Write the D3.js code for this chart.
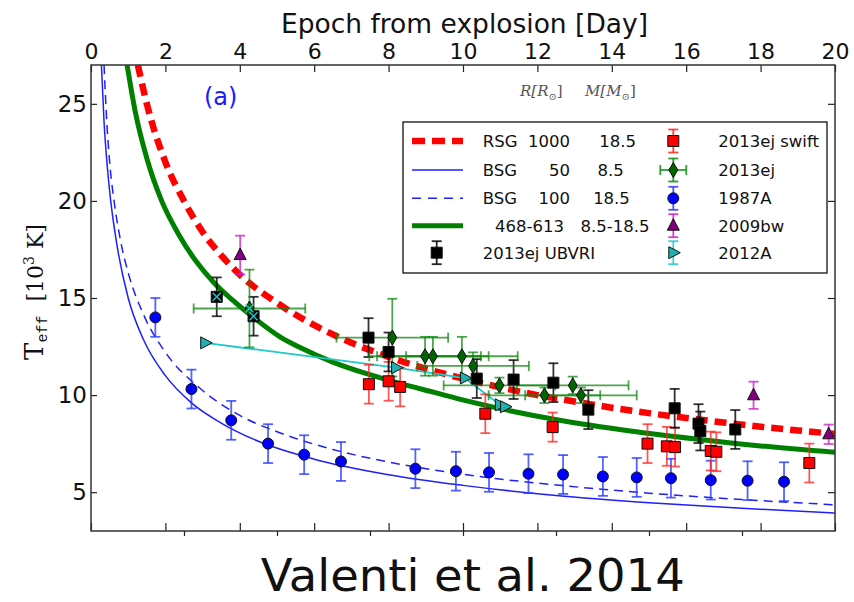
<!DOCTYPE html>
<html>
<head>
<meta charset="utf-8">
<script src="https://cdn.jsdelivr.net/npm/d3@7"></script>
<style>
  html, body { margin: 0; padding: 0; background: #fff; }
  svg { display: block; }
</style>
</head>
<body>
<svg id="chart" width="854" height="602"></svg>
<script>
// ---- axis ticks ----
const dayTicks = [0, 2, 4, 6, 8, 10, 12, 14, 16, 18, 20];
const lowerTicks = [2.5, 5, 7.5, 10, 12.5, 15, 17.5];
const teffTicks = [5, 10, 15, 20, 25];

// ---- model curves: [day, Teff (10^3 K)] ----
const rsgCurve = [[1.26,27],[1.5,25],[2.0,22.0],[2.5,20.0],[3.0,18.4],[3.5,17.2],[4.0,16.2],
  [5.0,14.75],[6.0,13.6],[7.0,12.7],[8.0,11.97],[9.0,11.36],[10.0,10.85],[11.0,10.4],
  [12.0,10.0],[13.0,9.67],[14.0,9.35],[15.0,9.07],[16.0,8.82],[17.0,8.59],[18.0,8.37],
  [19.0,8.18],[20.0,8.0]];
const bsg50Curve = [[0.28,27],[0.35,24.1],[0.45,21.5],[0.53,20],[0.7,17.7],[1.0,15.0],[1.4,12.9],
  [2.0,11.0],[2.7,9.6],[3.5,8.56],[4.5,7.62],[6.0,6.7],[8.0,5.9],[10.0,5.35],[12.5,4.83],
  [15.0,4.46],[17.5,4.17],[20.0,3.92]];
const bsg100Curve = [[0.35,27],[0.43,23.9],[0.52,21.6],[0.62,20],[0.8,17.9],[1.0,16.3],[1.4,14.2],
  [2.0,12.2],[2.93,10.35],[4.0,8.95],[5.09,8.05],[6.5,7.2],[8.0,6.55],[10.0,5.92],[12.61,5.35],
  [15.0,4.95],[17.5,4.62],[20.0,4.35]];
const rangeCurve = [[0.97,27],[1.2,24.5],[1.5,22.2],[1.9,20.0],[2.35,18.3],[2.84,16.85],[3.3,15.8],
  [3.83,14.85],[4.4,13.95],[5.08,13.0],[5.62,12.45],[6.5,11.7],[7.41,11.1],[8.3,10.6],[9.2,10.15],
  [10.1,9.7],[11.0,9.3],[12.6,8.7],[14.5,8.15],[16.2,7.75],[18.0,7.38],[20.0,7.05]];

// ---- observations: [day, Teff, yerr(, xerr)] ----
const sn2013ejUBVRI = [[3.38,15.06,1.0],[4.37,14.06,1.0],[7.46,12.96,1.0],[8.0,12.22,1.0],
  [10.37,10.85,1.0],[11.36,10.80,1.0],[12.43,10.64,1.0],[13.37,9.25,1.0],[15.69,9.32,1.0],
  [16.33,8.53,1.0],[16.38,8.15,1.0],[17.32,8.23,1.0]];
const sn2013ejSwift = [[7.47,10.56,1.0],[8.0,10.71,1.0],[8.31,10.42,1.0],[10.6,9.04,1.0],
  [12.41,8.35,0.75],[14.96,7.50,1.0],[15.48,7.36,1.0],[15.70,7.32,1.0],[16.66,7.12,1.0],
  [16.81,7.08,1.0],[19.31,6.50,1.0]];
const sn2013ej = [[4.26,14.46,2.0,1.5],[8.10,12.96,2.0,1.5],[8.98,12.0,1.0,1.5],[9.19,12.0,1.0,1.5],
  [9.97,12.0,1.0,1.5],[10.27,11.5,0.7,1.5],[10.98,10.5,0.4,1.5],[12.19,9.99,0.4,1.5],
  [12.95,10.5,0.45,1.5],[13.17,9.99,0.4,1.5]];
const sn1987A = [[1.73,14.0,1.0],[2.70,10.31,1.0],[3.77,8.70,1.0],[4.76,7.50,1.0],[5.73,6.93,1.0],
  [6.72,6.58,1.0],[8.72,6.21,1.0],[9.81,6.08,1.0],[10.70,6.02,1.0],[11.76,5.95,1.0],[12.69,5.91,1.0],
  [13.76,5.81,1.0],[14.67,5.76,1.0],[15.59,5.72,1.0],[16.66,5.62,1.0],[17.65,5.59,1.0],[18.63,5.54,1.0]];
const sn2009bw = [[4.01,17.21,1.0],[17.81,9.99,0.7],[19.83,7.98,0.5]];
const sn2012A = [[3.07,12.69],[8.20,11.41],[10.05,10.88],[10.99,9.50],[11.13,9.40]];
const earlyOverlap = [[3.38,15.06],[4.37,14.06],[4.26,14.46]];

// ---- legend text ----
const modelRows = [["RSG","1000","18.5"],["BSG","50","8.5"],["BSG","100","18.5"],["","468-613","8.5-18.5"]];
const dataLabels = ["2013ej swift","2013ej","1987A","2009bw","2012A"];

const svg = d3.select("#chart");
const FONT = "'DejaVu Sans', Verdana, sans-serif";

const x = d3.scaleLinear().domain([0, 20]).range([91, 835]);
const y = d3.scaleLinear().domain([3, 27]).range([531, 65]);

svg.append("defs").append("clipPath").attr("id", "plotclip")
  .append("rect").attr("x", 91).attr("y", 65).attr("width", 744).attr("height", 466);

// ---- curves ----
const line = d3.line().x(d => x(d[0])).y(d => y(d[1])).curve(d3.curveMonotoneX);
const curves = svg.append("g").attr("clip-path", "url(#plotclip)");
curves.append("path").datum(bsg50Curve).attr("d", line)
  .attr("fill", "none").attr("stroke", "#1f1fff").attr("stroke-width", 1.5);
curves.append("path").datum(bsg100Curve).attr("d", line)
  .attr("fill", "none").attr("stroke", "#1f1fff").attr("stroke-width", 1.5).attr("stroke-dasharray", "9,6");
curves.append("path").datum(rangeCurve).attr("d", line)
  .attr("fill", "none").attr("stroke", "#008000").attr("stroke-width", 5);
curves.append("path").datum(rsgCurve).attr("d", line)
  .attr("fill", "none").attr("stroke", "#ff0000").attr("stroke-width", 6.5).attr("stroke-dasharray", "12,7");

// ---- marker shapes ----
const shapes = {
  circle: "M5.5,0A5.5,5.5,0,1,1,-5.5,0A5.5,5.5,0,1,1,5.5,0Z",
  square: "M-5.5,-5.5H5.5V5.5H-5.5Z",
  diamond: "M0,-7.5L4.5,0L0,7.5L-4.5,0Z",
  triUp: "M0,-7L6,4.5L-6,4.5Z",
  triRight: "M7,0L-4.5,-6L-4.5,6Z"
};

const plot = svg.append("g").attr("clip-path", "url(#plotclip)");

function errorBars(data, color, opacity) {
  const g = plot.append("g").attr("stroke", color).attr("stroke-width", 1.8).attr("stroke-opacity", opacity);
  data.forEach(d => {
    const cx = x(d[0]);
    if (d[3]) {
      const x0 = x(d[0] - d[3]), x1 = x(d[0] + d[3]), cy = y(d[1]);
      g.append("line").attr("x1", x0).attr("x2", x1).attr("y1", cy).attr("y2", cy);
      g.append("line").attr("x1", x0).attr("x2", x0).attr("y1", cy - 5).attr("y2", cy + 5);
      g.append("line").attr("x1", x1).attr("x2", x1).attr("y1", cy - 5).attr("y2", cy + 5);
    }
    if (d[2]) {
      const y0 = y(d[1] - d[2]), y1 = y(d[1] + d[2]);
      g.append("line").attr("x1", cx).attr("x2", cx).attr("y1", y0).attr("y2", y1);
      g.append("line").attr("x1", cx - 5).attr("x2", cx + 5).attr("y1", y0).attr("y2", y0);
      g.append("line").attr("x1", cx - 5).attr("x2", cx + 5).attr("y1", y1).attr("y2", y1);
    }
  });
}
function markers(data, shape, fill) {
  plot.append("g").selectAll("path").data(data).join("path")
    .attr("d", shapes[shape])
    .attr("transform", d => `translate(${x(d[0])},${y(d[1])})`)
    .attr("fill", fill).attr("stroke", "#111").attr("stroke-width", 1);
}

// 2012A connecting line
plot.append("path").datum(sn2012A)
  .attr("d", d3.line().x(d => x(d[0])).y(d => y(d[1])))
  .attr("fill", "none").attr("stroke", "#20c8c8").attr("stroke-width", 1.8);

errorBars(sn1987A, "#2b3bff", 0.8);
errorBars(sn2013ejSwift, "#ff2020", 0.75);
errorBars(sn2013ejUBVRI, "#000", 0.8);
errorBars(sn2013ej, "#108a10", 0.75);
errorBars(sn2009bw, "#cc22cc", 0.8);

markers(sn1987A, "circle", "#0000ff");
markers(sn2013ejUBVRI, "square", "#000");
markers(sn2013ejSwift, "square", "#ff0000");
markers(sn2013ej, "diamond", "#006400");
markers(sn2009bw, "triUp", "#800080");
markers(sn2012A, "triRight", "#20b0b0");

// cyan crosses on the earliest epochs
const cross = plot.append("g").attr("stroke", "#20c8c8").attr("stroke-width", 1.4);
earlyOverlap.forEach(d => {
  const cx = x(d[0]), cy = y(d[1]);
  cross.append("line").attr("x1", cx - 4).attr("x2", cx + 4).attr("y1", cy - 4).attr("y2", cy + 4);
  cross.append("line").attr("x1", cx - 4).attr("x2", cx + 4).attr("y1", cy + 4).attr("y2", cy - 4);
});

// ---- axes ----
function styleAxis(g) {
  g.select(".domain").remove();
  g.selectAll(".tick line").attr("stroke", "#222").attr("stroke-width", 1.2);
  g.selectAll("text").attr("font-family", FONT).attr("fill", "#111");
}
svg.append("g").attr("transform", "translate(0,65)")
  .call(d3.axisTop(x).tickValues(dayTicks).tickSize(-7).tickPadding(6).tickFormat(d3.format("d")))
  .call(styleAxis).selectAll("text").attr("font-size", 22);
svg.append("g").attr("transform", "translate(0,531)")
  .call(d3.axisBottom(x).tickValues(dayTicks).tickSize(-8).tickFormat(""))
  .call(styleAxis);
svg.append("g").attr("transform", "translate(0,531)")
  .call(d3.axisBottom(x).tickValues(lowerTicks).tickSize(5).tickFormat(""))
  .call(styleAxis);
svg.append("g").attr("transform", "translate(91,0)")
  .call(d3.axisLeft(y).tickValues(teffTicks).tickSize(-6).tickPadding(4).tickFormat(d3.format("d")))
  .call(styleAxis).selectAll("text").attr("font-size", 23);
svg.append("g").attr("transform", "translate(835,0)")
  .call(d3.axisRight(y).tickValues(teffTicks).tickSize(-7).tickFormat(""))
  .call(styleAxis);

svg.append("rect").attr("x", 91).attr("y", 65).attr("width", 744).attr("height", 466)
  .attr("fill", "none").attr("stroke", "#333").attr("stroke-width", 1.5);

// axis titles
svg.append("text").attr("x", 464.5).attr("y", 33).attr("text-anchor", "middle")
  .attr("font-family", FONT).attr("font-size", 26.5).attr("fill", "#111")
  .text("Epoch from explosion [Day]");

const ylab = svg.append("text").attr("transform", "translate(43,292) rotate(-90)")
  .attr("text-anchor", "middle").attr("fill", "#111");
ylab.append("tspan").attr("font-family", "'DejaVu Serif', serif").attr("font-size", 26).text("T");
ylab.append("tspan").attr("font-family", "'Liberation Mono', 'DejaVu Sans Mono', monospace")
  .attr("font-size", 15).attr("dy", 4).text("eff");
ylab.append("tspan").attr("font-family", "'DejaVu Serif', serif").attr("font-size", 22).attr("dy", -4)
  .attr("xml:space", "preserve").text("  [10");
ylab.append("tspan").attr("font-family", "'DejaVu Serif', serif").attr("font-size", 14).attr("dy", -9).text("3");
ylab.append("tspan").attr("font-family", "'DejaVu Serif', serif").attr("font-size", 22).attr("dy", 9)
  .attr("xml:space", "preserve").text(" K]");

// panel tag
svg.append("text").attr("x", 204).attr("y", 105).attr("font-family", FONT).attr("font-size", 24)
  .attr("fill", "#1a1aff").text("(a)");

// column headings above the legend
function solarLabel(xPos, sym) {
  const t = svg.append("text").attr("x", xPos).attr("y", 96).attr("fill", "#555")
    .attr("font-family", "'DejaVu Serif', serif").attr("font-style", "italic").attr("font-size", 15);
  t.append("tspan").text(`${sym}[${sym}`);
  t.append("tspan").attr("font-size", 10).attr("dy", 4).attr("font-style", "normal").text("\u2299");
  t.append("tspan").attr("dy", -4).attr("font-style", "normal").text("]");
}
solarLabel(520, "R");
solarLabel(585, "M");

// ---- legend ----
const lg = svg.append("g");
lg.append("rect").attr("x", 403).attr("y", 122).attr("width", 424).attr("height", 151)
  .attr("fill", "#fff").attr("stroke", "#111").attr("stroke-width", 1.3);
const rowY = [141, 170, 198.3, 225.7, 252.7];
const sampleStyles = [
  {stroke: "#ff0000", w: 6.5, dash: "13,7"},
  {stroke: "#1f1fff", w: 1.5, dash: null},
  {stroke: "#1f1fff", w: 1.5, dash: "9,7"},
  {stroke: "#008000", w: 5, dash: null}
];
sampleStyles.forEach((s, i) => {
  lg.append("line").attr("x1", 412).attr("x2", 463).attr("y1", rowY[i]).attr("y2", rowY[i])
    .attr("stroke", s.stroke).attr("stroke-width", s.w).attr("stroke-dasharray", s.dash);
});
const ltext = (xp, yp, str, anchor) => lg.append("text").attr("x", xp).attr("y", yp + 6)
  .attr("text-anchor", anchor || "start").attr("font-family", FONT).attr("font-size", 16.5)
  .attr("fill", "#111").text(str);
modelRows.forEach((r, i) => {
  if (r[0]) ltext(482.7, rowY[i], r[0]);
  ltext(i === 3 ? 564 : 570, rowY[i], r[1], "end");
  ltext(i === 3 ? 615 : [617.7, 610.7, 611.5][i], rowY[i], r[2], "middle");
});
ltext(482.7, rowY[4], "2013ej UBVRI");
dataLabels.forEach((t, i) => ltext(718.3, rowY[i], t));

function legendMarker(cx, cy, shape, fill, ecolor, withX) {
  const g = lg.append("g").attr("stroke", ecolor).attr("stroke-width", 1.8).attr("stroke-opacity", 0.85);
  g.append("line").attr("x1", cx).attr("x2", cx).attr("y1", cy - 11.5).attr("y2", cy + 11.5);
  g.append("line").attr("x1", cx - 5).attr("x2", cx + 5).attr("y1", cy - 11.5).attr("y2", cy - 11.5);
  g.append("line").attr("x1", cx - 5).attr("x2", cx + 5).attr("y1", cy + 11.5).attr("y2", cy + 11.5);
  if (withX) {
    g.append("line").attr("x1", cx - 13).attr("x2", cx + 13).attr("y1", cy).attr("y2", cy);
    g.append("line").attr("x1", cx - 13).attr("x2", cx - 13).attr("y1", cy - 5).attr("y2", cy + 5);
    g.append("line").attr("x1", cx + 13).attr("x2", cx + 13).attr("y1", cy - 5).attr("y2", cy + 5);
  }
  lg.append("path").attr("d", shapes[shape]).attr("transform", `translate(${cx},${cy})`)
    .attr("fill", fill).attr("stroke", "#111").attr("stroke-width", 1);
}
legendMarker(436.7, rowY[4], "square", "#000", "#000");
legendMarker(673.3, rowY[0], "square", "#ff0000", "#ff2020");
legendMarker(673.3, rowY[1], "diamond", "#006400", "#108a10", true);
legendMarker(673.3, rowY[2], "circle", "#0000ff", "#2b3bff");
legendMarker(673.3, rowY[3], "triUp", "#800080", "#cc22cc");
legendMarker(673.3, rowY[4], "triRight", "#20b0b0", "#20c8c8");

// credit line
svg.append("text").attr("x", 260.7).attr("y", 591).attr("font-family", FONT)
  .attr("font-size", 45).attr("fill", "#111").attr("textLength", 424)
  .attr("lengthAdjust", "spacingAndGlyphs").text("Valenti et al. 2014");
</script>
</body>
</html>
